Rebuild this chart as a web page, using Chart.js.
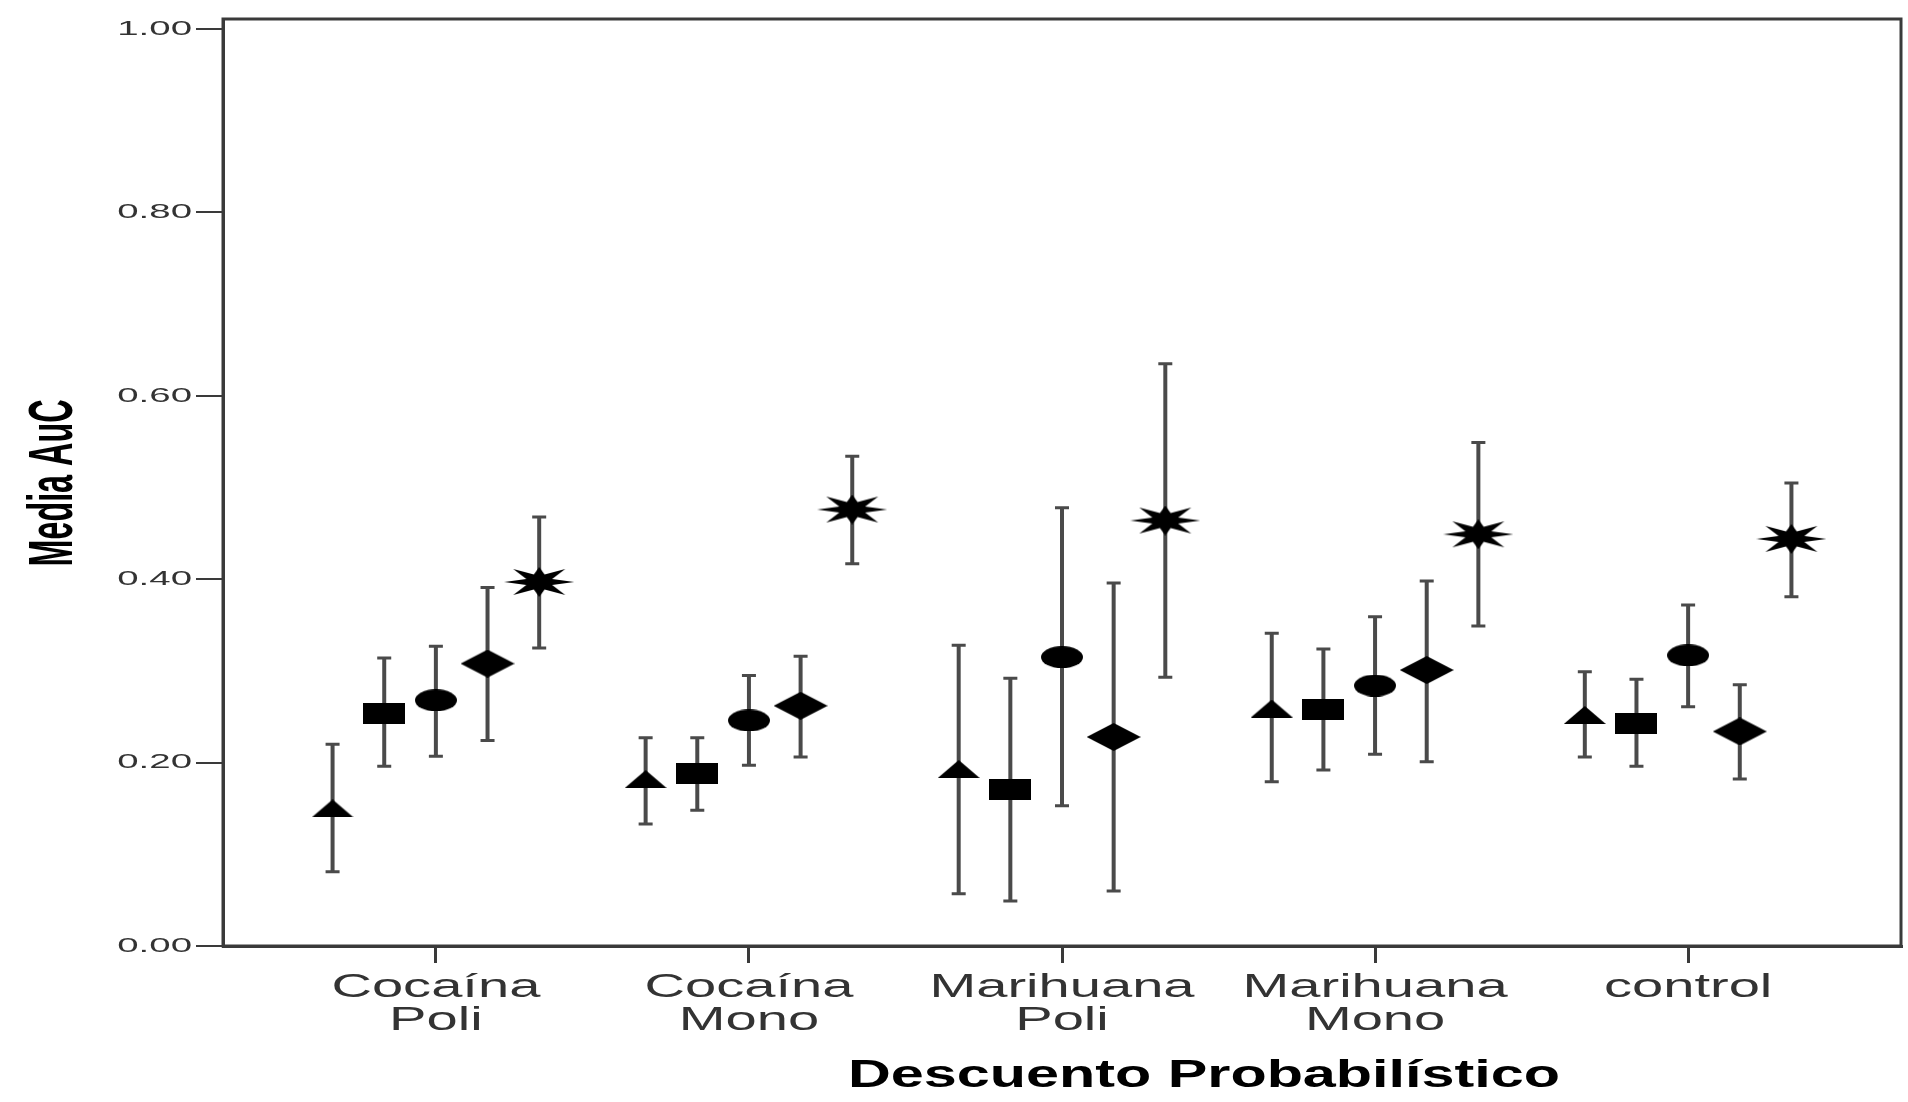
<!DOCTYPE html>
<html>
<head>
<meta charset="utf-8">
<script src="https://cdn.jsdelivr.net/npm/chart.js@4/dist/chart.umd.min.js"></script>
<style>
  body { margin: 0; background: #fff; }
  #canvas { display: block; }
</style>
</head>
<body>
<canvas id="canvas" width="1908" height="1102"></canvas>
<script>
// categorias del eje X (cada una en una o dos lineas)
var categories = [["Cocaína", "Poli"], ["Cocaína", "Mono"], ["Marihuana", "Poli"], ["Marihuana", "Mono"], ["control"]];
var yTicks = [0, 0.2, 0.4, 0.6, 0.8, 1.0];
var yTickLabels = ["0.00", "0.20", "0.40", "0.60", "0.80", "1.00"];
var xTitle = "Descuento Probabilístico";
var yTitle = "Media AuC";

// medias y limites de los intervalos, una serie por marcador
var triMean = [0.150, 0.182, 0.193, 0.259, 0.252];
var triLow = [0.081, 0.133, 0.057, 0.179, 0.206];
var triHigh = [0.220, 0.227, 0.328, 0.341, 0.299];

var sqMean = [0.254, 0.188, 0.171, 0.258, 0.243];
var sqLow = [0.196, 0.148, 0.049, 0.192, 0.196];
var sqHigh = [0.314, 0.227, 0.292, 0.324, 0.291];

var circMean = [0.268, 0.246, 0.315, 0.284, 0.317];
var circLow = [0.207, 0.197, 0.153, 0.209, 0.261];
var circHigh = [0.327, 0.295, 0.478, 0.359, 0.372];

var diaMean = [0.308, 0.262, 0.228, 0.301, 0.234];
var diaLow = [0.224, 0.206, 0.060, 0.201, 0.182];
var diaHigh = [0.391, 0.316, 0.396, 0.398, 0.285];

var starMean = [0.397, 0.476, 0.464, 0.449, 0.444];
var starLow = [0.325, 0.417, 0.293, 0.349, 0.381];
var starHigh = [0.468, 0.534, 0.635, 0.549, 0.505];

var axisColor = "#3a3a3a";
var barColor = "#4a4a4a";
var groupOffset = 0.165;

// marcadores dibujados en canvas
function makeMarker(w, h, draw) {
    var c = document.createElement("canvas");
    c.width = w;
    c.height = h;
    var g = c.getContext("2d");
    g.fillStyle = "#000";
    g.beginPath();
    draw(g, w, h);
    g.fill();
    return c;
}
var triangle = makeMarker(42, 18, function (g, w, h) {
    g.moveTo(w / 2, 0); g.lineTo(w, h); g.lineTo(0, h); g.closePath();
});
var square = makeMarker(42, 21, function (g, w, h) {
    g.rect(0, 0, w, h);
});
var ellipse = makeMarker(42, 22, function (g, w, h) {
    g.ellipse(w / 2, h / 2, w / 2, h / 2, 0, 0, Math.PI * 2);
});
var diamond = makeMarker(54, 28, function (g, w, h) {
    g.moveTo(w / 2, 0); g.lineTo(w, h / 2); g.lineTo(w / 2, h); g.lineTo(0, h / 2); g.closePath();
});
var star = makeMarker(70, 30, function (g, w, h) {
    var cx = w / 2, cy = h / 2;
    for (var k = 0; k < 16; k++) {
        var a = k * Math.PI / 8;
        var rx = 14, ry = 8;
        if (k % 4 == 0) { rx = 35; ry = 15; }
        if (k % 4 == 2) { rx = 26 / Math.cos(Math.PI / 4); ry = 13 / Math.sin(Math.PI / 4); }
        var px = cx + rx * Math.cos(a), py = cy - ry * Math.sin(a);
        if (k == 0) g.moveTo(px, py); else g.lineTo(px, py);
    }
    g.closePath();
});

function makeSeries(label, i, mean, low, high, marker) {
    return {
        label: label,
        data: mean.map(function (v, j) { return { x: j + (i - 2) * groupOffset, y: v }; }),
        errLow: low,
        errHigh: high,
        pointStyle: marker,
        pointRadius: 20,
        showLine: false
    };
}

function stretchText(ctx, text, x, y, sx, align) {
    ctx.save();
    ctx.translate(x, y);
    ctx.scale(sx, 1);
    ctx.textAlign = align;
    ctx.fillText(text, 0, 0);
    ctx.restore();
}

var decor = {
    id: "decor",
    beforeDatasetsDraw: function (chart) {
        var ctx = chart.ctx;
        var yScale = chart.scales.y;
        ctx.save();
        ctx.strokeStyle = barColor;
        chart.data.datasets.forEach(function (ds, i) {
            var meta = chart.getDatasetMeta(i);
            meta.data.forEach(function (pt, j) {
                var yLo = yScale.getPixelForValue(ds.errLow[j]);
                var yHi = yScale.getPixelForValue(ds.errHigh[j]);
                ctx.lineWidth = 4;
                ctx.beginPath();
                ctx.moveTo(pt.x, yLo);
                ctx.lineTo(pt.x, yHi);
                ctx.stroke();
                ctx.lineWidth = 3;
                ctx.beginPath();
                ctx.moveTo(pt.x - 7, yLo); ctx.lineTo(pt.x + 7, yLo);
                ctx.moveTo(pt.x - 7, yHi); ctx.lineTo(pt.x + 7, yHi);
                ctx.stroke();
            });
        });
        ctx.restore();
    },
    afterDraw: function (chart) {
        var ctx = chart.ctx;
        var area = chart.chartArea;
        var xScale = chart.scales.x, yScale = chart.scales.y;
        ctx.save();
        // marco completo
        ctx.strokeStyle = axisColor;
        ctx.lineWidth = 3;
        ctx.strokeRect(area.left, area.top, area.right - area.left, area.bottom - area.top);

        // etiquetas del eje Y
        ctx.fillStyle = "#333";
        ctx.font = "21px 'Liberation Sans', Arial, sans-serif";
        ctx.textBaseline = "middle";
        yTicks.forEach(function (v, i) {
            stretchText(ctx, yTickLabels[i], area.left - 31, yScale.getPixelForValue(v), 1.83, "right");
        });

        // etiquetas del eje X
        ctx.font = "33px 'Liberation Sans', Arial, sans-serif";
        ctx.textBaseline = "alphabetic";
        categories.forEach(function (lines, i) {
            var x = xScale.getPixelForValue(i);
            lines.forEach(function (t, k) {
                stretchText(ctx, t, x, area.bottom + 51 + k * 33, 1.7, "center");
            });
        });

        // titulo del eje X
        ctx.fillStyle = "#000";
        ctx.font = "bold 39px 'Liberation Sans', Arial, sans-serif";
        var w = ctx.measureText(xTitle).width;
        stretchText(ctx, xTitle, 1204, area.bottom + 141, 712 / w, "center");

        // titulo del eje Y
        ctx.font = "bold 36px 'Liberation Sans', Arial, sans-serif";
        var wy = ctx.measureText(yTitle).width;
        ctx.translate(72, 483);
        ctx.rotate(-Math.PI / 2);
        ctx.scale(167 / wy, 1.74);
        ctx.textAlign = "center";
        ctx.fillText(yTitle, 0, 0);
        ctx.restore();
    }
};

var ctx = document.getElementById("canvas").getContext("2d");
var pChart = new Chart(ctx, {
    type: "scatter",
    data: {
        datasets: [
            makeSeries("triangulo", 0, triMean, triLow, triHigh, triangle),
            makeSeries("cuadrado", 1, sqMean, sqLow, sqHigh, square),
            makeSeries("circulo", 2, circMean, circLow, circHigh, ellipse),
            makeSeries("rombo", 3, diaMean, diaLow, diaHigh, diamond),
            makeSeries("estrella", 4, starMean, starLow, starHigh, star)
        ]
    },
    options: {
        responsive: false,
        animation: false,
        events: [],
        layout: { autoPadding: false, padding: { left: 196, top: 19, right: 7, bottom: 139 } },
        plugins: {
            legend: { display: false },
            tooltip: { enabled: false }
        },
        scales: {
            x: {
                type: "linear",
                min: -0.68,
                max: 4.68,
                afterBuildTicks: function (s) {
                    s.ticks = categories.map(function (c, i) { return { value: i }; });
                },
                ticks: { display: false },
                grid: { drawOnChartArea: false, drawTicks: true, tickLength: 17, color: axisColor, lineWidth: 3 },
                border: { color: axisColor, width: 3 }
            },
            y: {
                min: 0,
                max: 1.011,
                afterBuildTicks: function (s) {
                    s.ticks = yTicks.map(function (v) { return { value: v }; });
                },
                ticks: { display: false },
                grid: { drawOnChartArea: false, drawTicks: true, tickLength: 27, color: axisColor, lineWidth: 2 },
                border: { color: axisColor, width: 3 }
            }
        }
    },
    plugins: [decor]
});
</script>
</body>
</html>
